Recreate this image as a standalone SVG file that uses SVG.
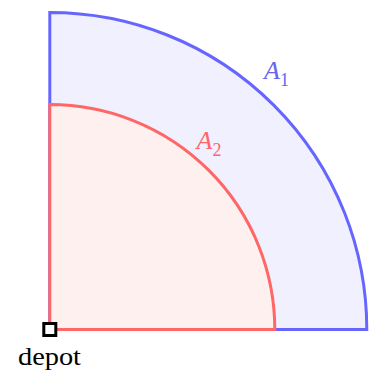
<svg xmlns="http://www.w3.org/2000/svg" width="371" height="371" viewBox="0 0 371 371">
<style>
.lbl{font-family:"Liberation Serif","DejaVu Serif",serif;font-style:italic;font-size:26px}
.sub{font-style:normal;font-size:18px}
</style>
<rect width="371" height="371" fill="#ffffff"/>
<g id="A1">
<path d="M 49.8 12.5 A 317 317 0 0 1 366.8 329.5 L 49.8 329.5 Z" fill="#f0f0ff" stroke="#6666ff" stroke-width="3" stroke-linejoin="miter"/>
<text class="lbl" x="264" y="79" fill="#6666ee">A<tspan class="sub" dy="7">1</tspan></text>
</g>
<g id="A2">
<path d="M 49.8 104.5 A 225 225 0 0 1 274.8 329.5 L 49.8 329.5 Z" fill="#fff0f0" stroke="#ff6666" stroke-width="3" stroke-linejoin="miter"/>
<text class="lbl" x="196.5" y="149" fill="#ff6666">A<tspan class="sub" dy="7">2</tspan></text>
</g>
<g id="connectors"></g>
<g id="depot">
<rect x="43.8" y="323.5" width="12" height="12" fill="#ffffff" stroke="#000000" stroke-width="3"/>
<text x="49.5" y="365" text-anchor="middle" font-family="Liberation Serif, DejaVu Serif, serif" font-size="26" textLength="63" lengthAdjust="spacingAndGlyphs" fill="#000000">depot</text>
</g>
</svg>
